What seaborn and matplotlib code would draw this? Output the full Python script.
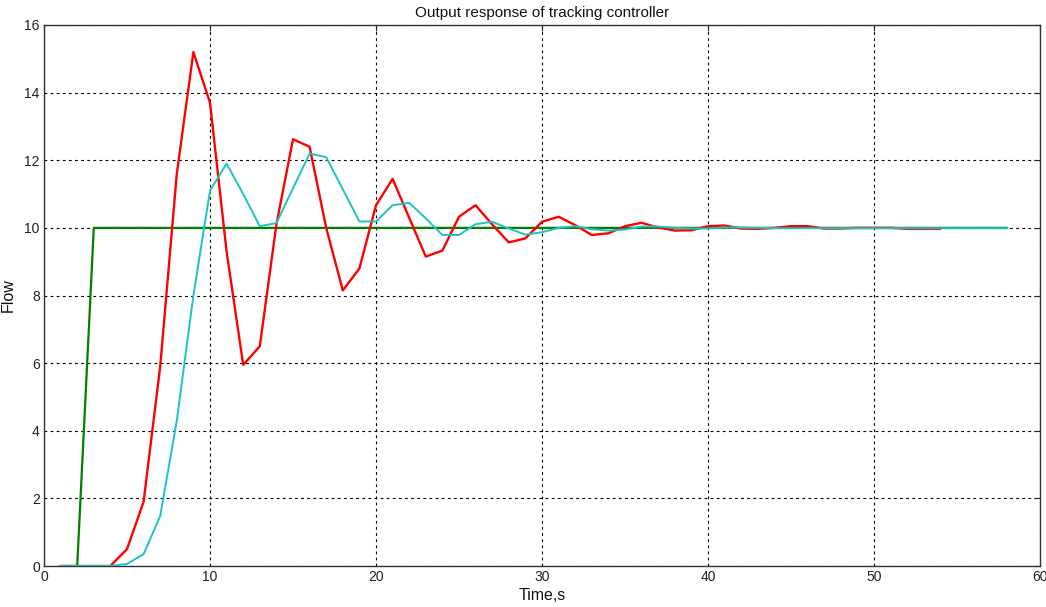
import matplotlib
matplotlib.use("Agg")
import matplotlib.pyplot as plt
import seaborn as sns
import pandas as pd

# ---- data ----
t_ref = [1, 2, 3, 58]
ref = [0, 0, 10, 10]

t_red = list(range(1, 55))
red = [0, 0, 0, 0, 0.5, 1.9, 5.9, 11.6, 15.2, 13.7,
       9.3, 5.95, 6.5, 10.1, 12.62, 12.4, 10.0, 8.15, 8.8, 10.67,
       11.45, 10.3, 9.15, 9.33, 10.33, 10.67, 10.1, 9.57, 9.69, 10.18,
       10.33, 10.08, 9.79, 9.84, 10.05, 10.15, 10.01, 9.92, 9.93, 10.05,
       10.07, 9.98, 9.97, 10.0, 10.05, 10.05, 9.98, 9.98, 10.0, 10.0,
       10.0, 9.97, 9.97, 9.97]

t_cyan = list(range(1, 59))
cyan = [0, 0, 0, 0, 0.06, 0.35, 1.48, 4.3, 8.0, 11.1,
        11.9, 11.0, 10.05, 10.14, 11.17, 12.2, 12.09, 11.14, 10.19, 10.19,
        10.67, 10.74, 10.28, 9.79, 9.79, 10.11, 10.18, 9.98, 9.8, 9.87,
        10.0, 10.05, 9.96, 9.92, 9.95, 10.04, 10.04, 10.0, 9.98, 9.98,
        10.01, 10.01, 10.0, 9.99, 9.99, 9.99, 9.99, 9.99, 9.99, 9.99,
        9.99, 9.99, 9.99, 9.99, 9.99, 9.99, 9.99, 9.99]

x_ticks = [0, 10, 20, 30, 40, 50, 60]
y_ticks = [0, 2, 4, 6, 8, 10, 12, 14, 16]

title = "Output response of tracking controller"
xlabel = "Time,s"
ylabel = "Flow"

# ---- style ----
sns.set_style("white")
plt.rcParams['font.family'] = ['Liberation Sans Narrow', 'Liberation Sans', 'DejaVu Sans']

fig = plt.figure(figsize=(10.46, 6.07), dpi=100)
ax = fig.add_axes([44 / 1046, 41 / 607, 996 / 1046, 541 / 607])

df_ref = pd.DataFrame({"t": t_ref, "v": ref})
df_red = pd.DataFrame({"t": t_red, "v": red})
df_cyan = pd.DataFrame({"t": t_cyan, "v": cyan})

sns.lineplot(data=df_ref, x="t", y="v", ax=ax, color="#008000", lw=1.6, zorder=3)
sns.lineplot(data=df_red, x="t", y="v", ax=ax, color="#ff0000", lw=1.7, zorder=4)
sns.lineplot(data=df_cyan, x="t", y="v", ax=ax, color="#1cc4c4", lw=1.4, zorder=5)

ax.set_xlim(0, 60)
ax.set_ylim(0, 16)
ax.set_xticks(x_ticks)
ax.set_yticks(y_ticks)
ax.grid(True, color="black", linestyle=(0, (2.5, 3)), linewidth=0.8)
ax.set_axisbelow(True)
for s in ax.spines.values():
    s.set_color("#333333")
    s.set_linewidth(1.0)
    s.set_visible(True)
ax.tick_params(direction="in", top=True, right=True, length=4, width=0.8,
               labelsize=10, colors="#222222", pad=3)

ax.set_title(title, fontsize=11, pad=6, color="#111111")
ax.set_xlabel(xlabel, fontsize=11.5, labelpad=3, color="#111111")
ax.set_ylabel(ylabel, fontsize=11.5, labelpad=6, color="#111111")

fig.savefig("out.png", dpi=100, facecolor="white")
